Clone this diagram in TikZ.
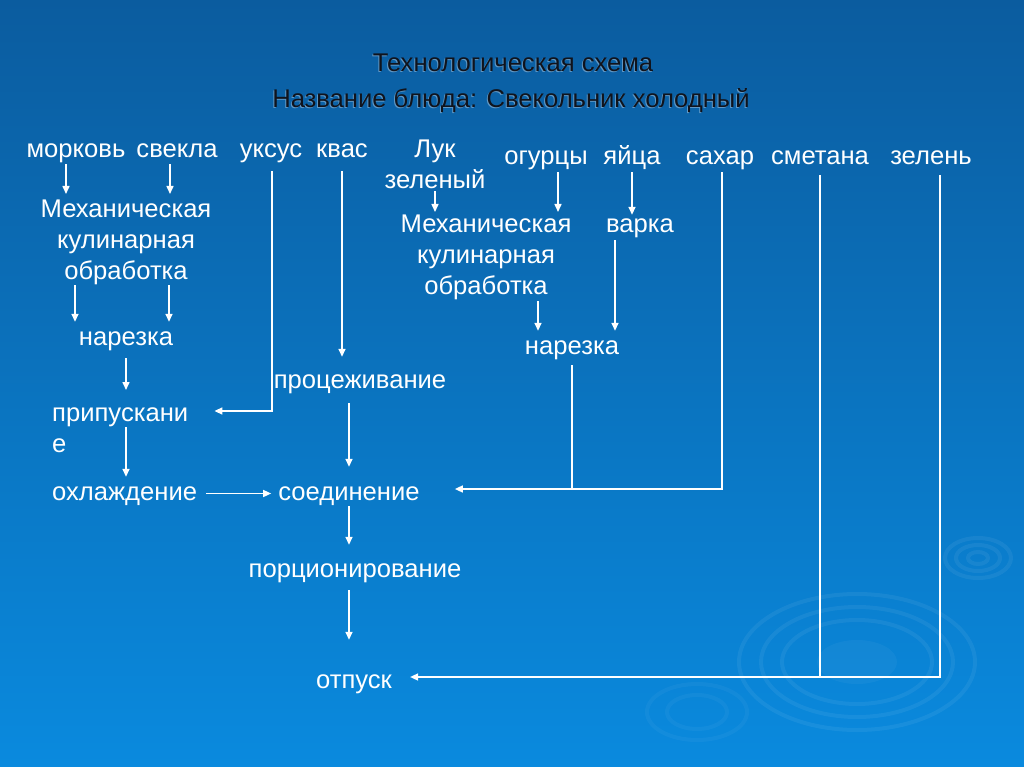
\documentclass[tikz,border=0pt]{standalone}
\usepackage{fontspec}
\setmainfont{Liberation Sans}
\usetikzlibrary{arrows.meta}
\newcommand{\fsz}{\fontsize{25.6}{31}\selectfont}
\definecolor{bgtop}{HTML}{0B5C9F}
\definecolor{bgmid}{HTML}{0B67B0}
\definecolor{bgbot}{HTML}{0A8ADE}
\definecolor{ttl}{HTML}{10131C}
\begin{document}
\begin{tikzpicture}[x=1pt,y=-1pt,
 lbl/.style={text=white,font=\fsz,inner sep=0pt,anchor=base,text height=18pt,text depth=5pt},
 mlbl/.style={text=white,font=\fsz,inner sep=0pt,align=center,anchor=north},
 ttlstyle/.style={text=ttl,font=\fsz,inner sep=0pt,anchor=base},
 shd/.style={text=white,text opacity=.35,font=\fsz,inner sep=0pt,anchor=base},
 ln/.style={draw=white,line width=1.5pt},
 arr/.style={ln,-{Triangle[length=8pt,width=7pt]}},
 ripple/.style={draw=white,draw opacity=.06,line width=4pt},
]
\useasboundingbox (0,0) rectangle (1024,767);
% background
\shade[top color=bgtop,middle color=bgmid,bottom color=bgbot] (0,0) rectangle (1024,767);
% ripples
\fill[white,fill opacity=.04] (857,662) ellipse [x radius=40pt,y radius=22pt];
\draw[ripple] (857,662) ellipse [x radius=118pt,y radius=68pt];
\draw[ripple] (857,662) ellipse [x radius=96pt,y radius=55pt];
\draw[ripple] (857,662) ellipse [x radius=75pt,y radius=42pt];
\draw[ripple] (978,558) ellipse [x radius=33pt,y radius=20pt];
\draw[ripple] (978,558) ellipse [x radius=22pt,y radius=13pt];
\draw[ripple] (978,558) ellipse [x radius=10pt,y radius=6pt];
\draw[ripple,draw opacity=.04] (697,712) ellipse [x radius=50pt,y radius=28pt];
\draw[ripple,draw opacity=.04] (697,712) ellipse [x radius=30pt,y radius=17pt];

% title
\node[shd] (t1s) at (512,73) {Технологическая схема};
\node[ttlstyle] (t1) at (513,72) {Технологическая схема};
\node[shd] (t2s) at (510,109) {Название блюда: Свекольник холодный};
\node[ttlstyle] (t2) at (511,108) {Название блюда: Свекольник холодный};

% ingredients
\node[lbl] (morkov) at (76,158) {морковь};
\node[lbl] (svekla) at (177,158) {свекла};
\node[lbl] (uksus) at (271,158) {уксус};
\node[lbl] (kvas) at (342,158) {квас};
\node[mlbl] (luk) at (435,140) {Лук\\зеленый};
\node[lbl] (ogurcy) at (546,165) {огурцы};
\node[lbl] (yaica) at (632,165) {яйца};
\node[lbl] (sahar) at (720,165) {сахар};
\node[lbl] (smetana) at (820,165) {сметана};
\node[lbl] (zelen) at (931,165) {зелень};

% steps
\node[mlbl] (mek1) at (126,200) {Механическая\\кулинарная\\обработка};
\node[lbl] (nar1) at (126,345) {нарезка};
\node[mlbl,anchor=north west,align=left] (pripusk) at (52,408) {припускани\\е};
\node[lbl,anchor=base west] (ohlazh) at (52,500) {охлаждение};
\node[lbl] (procezh) at (360,388) {процеживание};
\node[lbl] (soed) at (349,500) {соединение};
\node[lbl] (porc) at (355,577) {порционирование};
\node[lbl] (otpusk) at (354,688) {отпуск};
\node[mlbl] (mek2) at (486,215) {Механическая\\кулинарная\\обработка};
\node[lbl] (varka) at (640,233) {варка};
\node[lbl] (nar2) at (572,354) {нарезка};

% helper coordinates
\coordinate (c66) at (66,0);
\coordinate (c170) at (170,0);
\coordinate (c75) at (75,0);
\coordinate (c169) at (169,0);
\coordinate (c126) at (126,0);
\coordinate (p5) at (126,427);
\coordinate (j1) at (272,411);
\coordinate (c342) at (342,0);
\coordinate (c349) at (349,0);
\coordinate (c435) at (435,0);
\coordinate (c558) at (558,0);
\coordinate (c632) at (632,0);
\coordinate (c538) at (538,0);
\coordinate (c615) at (615,0);
\coordinate (c572) at (572,0);
\coordinate (j2) at (722,489);
\coordinate (j4) at (820,677);
\coordinate (j3) at (940,677);

% connectors
\draw[arr,shorten <=1pt,shorten >=6pt] (morkov.south -| c66) -- (mek1.north -| c66);
\draw[arr,shorten <=1pt,shorten >=6pt] (svekla.south -| c170) -- (mek1.north -| c170);
\draw[arr,shorten >=5pt] (mek1.south -| c75) -- (nar1.north -| c75);
\draw[arr,shorten >=5pt] (mek1.south -| c169) -- (nar1.north -| c169);
\draw[arr,shorten <=8pt,shorten >=18pt] (nar1.south -| c126) -- (pripusk.north -| c126);
\draw[arr,shorten >=5pt] (p5) -- (ohlazh.north -| p5);
\draw[arr,shorten <=9pt,shorten >=7pt] (ohlazh.east) -- (soed.west);
\draw[arr,shorten <=8pt,shorten >=26pt] (uksus.south -| j1) -- (j1) -- (j1 -| pripusk.east);
\draw[arr,shorten <=8pt,shorten >=13pt] (kvas.south -| c342) -- (procezh.north -| c342);
\draw[arr,shorten <=10pt,shorten >=15pt] (procezh.south -| c349) -- (soed.north -| c349);
\draw[arr,shorten <=1pt,shorten >=14pt] (soed.south -| c349) -- (porc.north -| c349);
\draw[arr,shorten <=8pt,shorten >=30pt] (porc.south -| c349) -- (otpusk.north -| c349);
\draw[arr,shorten <=2pt,shorten >=3pt] (luk.south -| c435) -- (mek2.north -| c435);
\draw[arr,shorten <=2pt,shorten >=3pt] (ogurcy.south -| c558) -- (mek2.north -| c558);
\draw[arr,shorten <=2pt] (yaica.south -| c632) -- (varka.north -| c632);
\draw[arr,shorten <=1pt,shorten >=5pt] (mek2.south -| c538) -- (nar2.north -| c538);
\draw[arr,shorten <=2pt,shorten >=5pt] (varka.south -| c615) -- (nar2.north -| c615);
\draw[ln,shorten <=6pt] (nar2.south -| c572) -- (j2 -| c572);
\draw[arr,shorten <=2pt,shorten >=35pt] (sahar.south -| j2) -- (j2) -- (j2 -| soed.east);
\draw[ln,shorten <=5pt] (smetana.south -| j4) -- (j4);
\draw[arr,shorten <=5pt,shorten >=18pt] (zelen.south -| j3) -- (j3) -- (j3 -| otpusk.east);
\end{tikzpicture}
\end{document}
